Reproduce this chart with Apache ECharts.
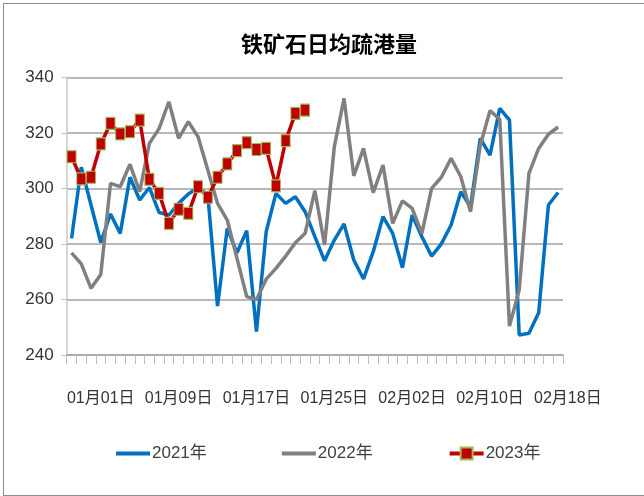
<!DOCTYPE html>
<html>
<head>
<meta charset="utf-8">
<script src="https://cdn.jsdelivr.net/npm/echarts@6/dist/echarts.min.js"></script>
<style>
html,body{margin:0;padding:0;background:#fff;}
#frame{position:absolute;left:3px;top:3px;width:650px;height:491px;border-left:1.5px solid #8c8c8c;border-top:1.5px solid #8c8c8c;border-bottom:1.5px solid #8c8c8c;}
#main{position:absolute;left:0;top:0;width:644px;height:496px;}
</style>
</head>
<body>
<div id="frame"></div>
<div id="main"></div>
<script>
// Categories: daily dates (the label axis has one extra day, 02月18日)
var dates = [
 '12月29日','12月30日','12月31日',
 '01月01日','01月02日','01月03日','01月04日','01月05日','01月06日','01月07日','01月08日',
 '01月09日','01月10日','01月11日','01月12日','01月13日','01月14日','01月15日','01月16日',
 '01月17日','01月18日','01月19日','01月20日','01月21日','01月22日','01月23日','01月24日',
 '01月25日','01月26日','01月27日','01月28日','01月29日','01月30日','01月31日','02月01日',
 '02月02日','02月03日','02月04日','02月05日','02月06日','02月07日','02月08日','02月09日',
 '02月10日','02月11日','02月12日','02月13日','02月14日','02月15日','02月16日','02月17日',
 '02月18日'
];
var categories = dates.slice(0, 51);

var seriesNames = ['2021年', '2022年', '2023年'];

var values2021 = [282, 307.6, 294, 280.5, 290.8, 283.8, 304, 295.8, 300.3, 291.3,
 290.4, 294.6, 298, 300.3, 297.6, 257.6, 285.6, 276.8, 284.8, 248.4,
 284.4, 298.2, 294.6, 297, 291.6, 282.6, 273.9, 281.4, 287.2, 274.2,
 267.4, 277.2, 289.8, 283.8, 271.4, 290.4, 282.6, 275.6, 280, 286.8,
 298.8, 293.4, 318, 312, 328.8, 324.6, 247.2, 247.8, 255.2, 294, 298.5];

var values2022 = [276.8, 272.8, 264, 269, 301.8, 300.6, 308.7, 298.8, 316.2, 321.6,
 331.2, 318, 324, 318.6, 306.6, 294.6, 288.6, 274.8, 261, 260,
 267.3, 271.2, 275.6, 280.4, 283.8, 299.2, 279.6, 315, 332.4, 304.5,
 314.4, 298.5, 308.4, 287.4, 295.5, 292.8, 283.8, 300, 304, 310.8,
 304.2, 291.6, 315.5, 328, 324.9, 250.4, 263.4, 305.4, 314.4, 319.5, 322.1];

var values2023 = [311.4, 303.4, 304, 316, 323.4, 319.6, 320.4, 324.6, 303.3, 298.2,
 287.4, 292.5, 291, 300.6, 296.8, 304, 308.8, 313.6, 316.5, 314,
 314.4, 300.9, 317.2, 327, 328.2];

var yTicks = [240, 260, 280, 300, 320, 340];

var FONT = '"Liberation Sans", "Noto Sans CJK SC", sans-serif';
var LINE_ICON = 'path://M0,0L34,0L34,4L0,4Z';

var chart = echarts.init(document.getElementById('main'), null, {renderer: 'canvas'});
var option = {
  animation: false,
  backgroundColor: 'transparent',
  title: {
    text: '铁矿石日均疏港量',
    left: 329, top: 33, textAlign: 'center', padding: 0,
    textStyle: {fontFamily: '"Noto Sans CJK SC", sans-serif', fontSize: 22, fontWeight: 'bold', color: '#000'}
  },
  legend: {
    left: 116, top: 445, padding: 0, itemGap: 75, itemWidth: 34, itemHeight: 15,
    data: [
      {name: seriesNames[0], icon: LINE_ICON},
      {name: seriesNames[1], icon: LINE_ICON},
      {name: seriesNames[2], lineStyle: {width: 4}}
    ],
    textStyle: {fontFamily: FONT, fontSize: 17, color: '#404040', padding: [0, 0, 0, -3]}
  },
  grid: [
    {left: 66.7, right: 81, top: 77.3, bottom: 141, containLabel: false},
    {left: 66.7, right: 71.3, top: 77.3, bottom: 141, containLabel: false}
  ],
  xAxis: [
    {
      type: 'category', gridIndex: 0, data: categories, boundaryGap: true,
      axisLine: {lineStyle: {color: '#a6a6a6', width: 1.5}},
      axisTick: {show: true, interval: 0, length: 9, lineStyle: {color: '#bfbfbf', width: 1}},
      axisLabel: {show: false}
    },
    {
      type: 'category', gridIndex: 1, data: dates, boundaryGap: true,
      axisLine: {show: false}, axisTick: {show: false}, splitLine: {show: false},
      axisLabel: {
        show: true, margin: 36, hideOverlap: false, showMinLabel: true, showMaxLabel: true,
        interval: function (i) { return (i - 3) % 8 === 0; },
        fontFamily: FONT, fontSize: 16, color: '#333'
      }
    }
  ],
  yAxis: [
    {
      type: 'value', gridIndex: 0, min: yTicks[0], max: yTicks[yTicks.length - 1], interval: 20,
      axisLine: {show: true, lineStyle: {color: '#c8c8c8', width: 1.5}},
      axisTick: {show: true, length: 5, lineStyle: {color: '#bfbfbf'}},
      axisLabel: {margin: 13, fontFamily: FONT, fontSize: 17, color: '#333'},
      splitLine: {show: true, lineStyle: {color: '#a0a0a0', width: 1.5}}
    },
    {type: 'value', gridIndex: 1, show: false}
  ],
  series: [
    {
      name: seriesNames[0], type: 'line', xAxisIndex: 0, yAxisIndex: 0,
      data: values2021, symbol: 'none', showSymbol: false,
      lineStyle: {color: '#0070c0', width: 3.5}, itemStyle: {color: '#0070c0'}, z: 2
    },
    {
      name: seriesNames[1], type: 'line', xAxisIndex: 0, yAxisIndex: 0,
      data: values2022, symbol: 'none', showSymbol: false,
      lineStyle: {color: '#808080', width: 3.5}, itemStyle: {color: '#808080'}, z: 3
    },
    {
      name: seriesNames[2], type: 'line', xAxisIndex: 0, yAxisIndex: 0,
      data: values2023, symbol: 'rect', symbolSize: [9, 12], showSymbol: true, showAllSymbol: true,
      lineStyle: {color: '#c00000', width: 3.5},
      itemStyle: {color: '#c00000', borderColor: '#9bbb59', borderWidth: 1}, z: 4
    }
  ]
};
chart.setOption(option);
</script>
</body>
</html>
